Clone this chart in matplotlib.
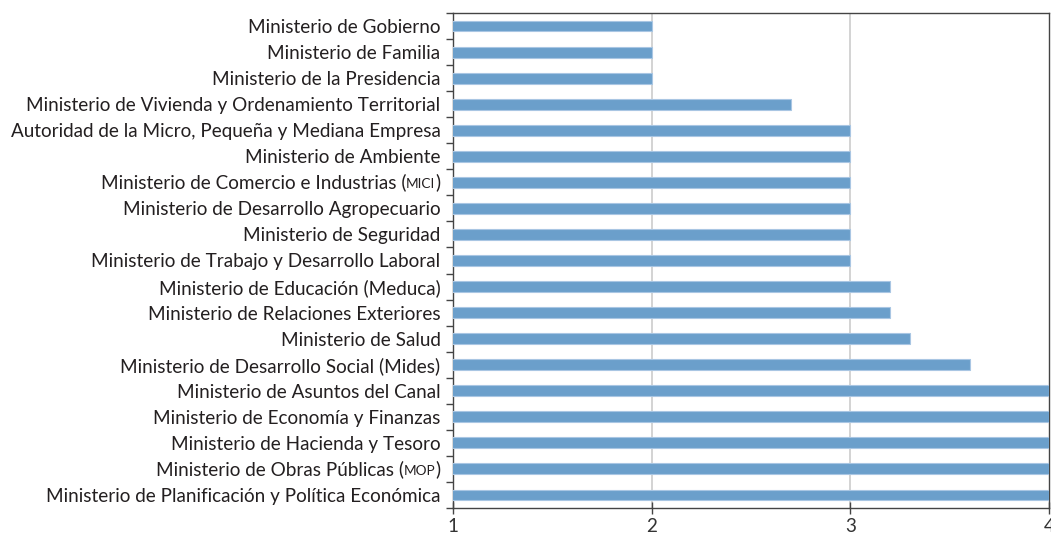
import matplotlib.pyplot as plt
from matplotlib.offsetbox import TextArea, HPacker, AnnotationBbox

plt.rcParams['font.family'] = ['Lato', 'DejaVu Sans']

# data, top to bottom as in the chart
labels = [
    'Ministerio de Gobierno',
    'Ministerio de Familia',
    'Ministerio de la Presidencia',
    'Ministerio de Vivienda y Ordenamiento Territorial',
    'Autoridad de la Micro, Pequeña y Mediana Empresa',
    'Ministerio de Ambiente',
    'Ministerio de Comercio e Industrias (MICI)',
    'Ministerio de Desarrollo Agropecuario',
    'Ministerio de Seguridad',
    'Ministerio de Trabajo y Desarrollo Laboral',
    'Ministerio de Educación (Meduca)',
    'Ministerio de Relaciones Exteriores',
    'Ministerio de Salud',
    'Ministerio de Desarrollo Social (Mides)',
    'Ministerio de Asuntos del Canal',
    'Ministerio de Economía y Finanzas',
    'Ministerio de Hacienda y Tesoro',
    'Ministerio de Obras Públicas (MOP)',
    'Ministerio de Planificación y Política Económica',
]
values = [2, 2, 2, 2.7, 3, 3, 3, 3, 3, 3, 3.2, 3.2, 3.3, 3.6, 4, 4, 4, 4, 4]
# labels whose acronym is set in small caps: (text before, acronym, text after)
small_caps = {
    6: ('Ministerio de Comercio e Industrias (', 'MICI', ')'),
    17: ('Ministerio de Obras Públicas (', 'MOP', ')'),
}

txt_color = '#231f20'
bar_color = '#6b9fcb'
fs = 13.6

fig = plt.figure(figsize=(10.51, 5.34), dpi=100)
ax = fig.add_axes([453 / 1051, 26 / 534, 596 / 1051, 495 / 534])

y = list(range(len(labels)))
ax.barh(y, values, height=0.42, color=bar_color, edgecolor='#a9c6e3',
        linewidth=0.8, zorder=3)

ax.set_xlim(1, 4)
ax.set_ylim(len(labels) - 0.5, -0.5)
ax.set_xticks([1, 2, 3, 4])
ax.set_xticklabels(['1', '2', '3', '4'], fontsize=fs, color='#333333')
for xv in [2, 3]:
    ax.axvline(xv, color='#cccccc', linewidth=1.2, zorder=1)

# category labels
ax.set_yticks(y)
ticklabels = ['' if i in small_caps else s for i, s in enumerate(labels)]
ax.set_yticklabels(ticklabels, fontsize=fs, color=txt_color)
ax.tick_params(axis='y', length=0, pad=9)
ax.set_yticks([i + 0.5 for i in range(-1, len(labels))], minor=True)
ax.tick_params(axis='y', which='minor', length=5, width=1, color='#444444')
ax.tick_params(axis='x', direction='inout', length=8, width=1,
               color='#444444', pad=3)

for i, (a, b, c) in small_caps.items():
    parts = [TextArea(a, textprops=dict(fontsize=fs, color=txt_color)),
             TextArea(b, textprops=dict(fontsize=fs * 0.72, color=txt_color)),
             TextArea(c, textprops=dict(fontsize=fs, color=txt_color))]
    box = HPacker(children=parts, align='baseline', pad=0, sep=0)
    ab = AnnotationBbox(box, (0, i), xycoords=('axes fraction', 'data'),
                        xybox=(-9, 0), boxcoords='offset points',
                        box_alignment=(1, 0.5), frameon=False,
                        annotation_clip=False)
    ax.add_artist(ab)

for s in ax.spines.values():
    s.set_color('#444444')
    s.set_linewidth(1)

fig.savefig('out.png', dpi=100)
